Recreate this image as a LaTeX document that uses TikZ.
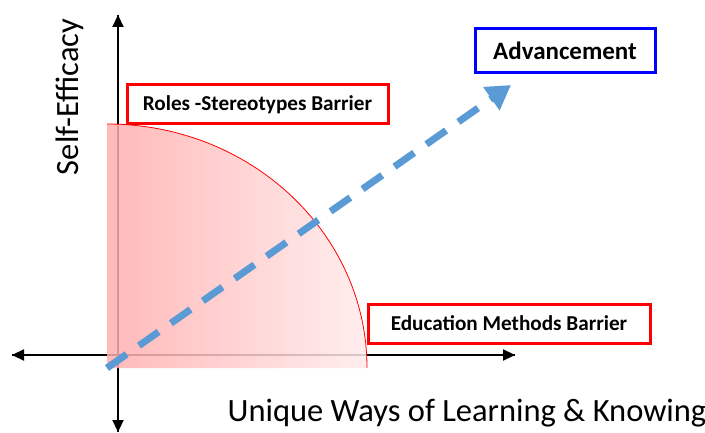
\documentclass[tikz,border=0pt]{standalone}
\usepackage{fontspec}
\setmainfont{Carlito}
\usetikzlibrary{arrows.meta,positioning}
\definecolor{dashblue}{RGB}{91,155,213}

\begin{document}
\begin{tikzpicture}[x=1pt, y=-1pt,
    axis/.style={line width=2.2pt, -{Triangle[length=12pt,width=11pt]}},
    barrier/.style={draw=red, line width=3pt, minimum width=261pt, minimum height=39pt,
        font=\bfseries\fontsize{21.2}{24}\selectfont},
    goal/.style={draw=blue, line width=3pt, minimum width=180pt, minimum height=44pt,
        font=\bfseries\fontsize{25}{28}\selectfont},
    axlabel/.style={font=\fontsize{32.5}{35}\selectfont}]
    \useasboundingbox (0,0) rectangle (705,433);

    \coordinate (o) at (107,368);
    \coordinate (xl) at (12,355);
    \coordinate (xr) at (515,355);
    \coordinate (yt) at (118,15);
    \coordinate (yb) at (118,432);

    % axes
    \draw[axis] (xl) -- (xr);
    \draw[axis] (xr) -- (xl);
    \draw[axis] (yb) -- (yt);
    \draw[axis] (yt) -- (yb);

    % barrier region
    \shade[left color=red!32, right color=red!8, fill opacity=0.85]
        (o) -- (107,124) arc (270:360:260 and 244) -- cycle;
    \draw[red, line width=0.8pt] (107,124) arc (270:360:260 and 244);

    \node[barrier] (roles) at (257.5,104.5) {Roles -Stereotypes Barrier};
    \node[barrier, minimum width=282pt] (edu) at (509,323.5) {Education Methods Barrier};
    \node[goal] (adv) at (565,51) {Advancement};

    \coordinate (tip) at (511,85);
    \draw[dashblue, line width=7pt, dash pattern=on 24pt off 15pt,
        -{Triangle[length=24pt,width=27pt]}] (o) -- (tip);

    \node[axlabel, rotate=90] (se) at (70,97) {Self-Efficacy};
    \node[axlabel] (uw) at (467,413) {Unique Ways of Learning \& Knowing};
\end{tikzpicture}
\end{document}
